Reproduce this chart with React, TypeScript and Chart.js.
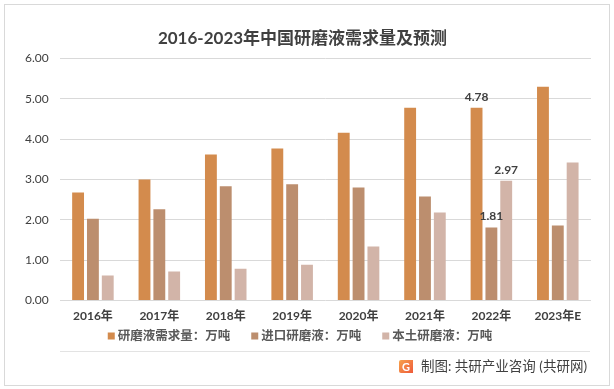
import React, { useEffect, useRef } from "react";
import { Chart, registerables } from "chart.js";

Chart.register(...registerables);

const categories = ["2016年", "2017年", "2018年", "2019年", "2020年", "2021年", "2022年", "2023年E"];
const seriesNames = ["研磨液需求量：万吨", "进口研磨液：万吨", "本土研磨液：万吨"];
const demand = [2.68, 3.0, 3.62, 3.77, 4.16, 4.78, 4.78, 5.3];
const imported = [2.03, 2.26, 2.83, 2.88, 2.8, 2.58, 1.81, 1.86];
const domestic = [0.62, 0.72, 0.79, 0.89, 1.34, 2.18, 2.97, 3.42];
const yTicks = [0, 1, 2, 3, 4, 5, 6];
const labeledIndex = 6;
const titleText = "2016-2023年中国研磨液需求量及预测";
const footerText = "制图: 共研产业咨询 (共研网)";

const FONT = 'Lato, "Noto Sans CJK SC", sans-serif';
const colors = ["#D38B4D", "#BC8E6E", "#D2B4A8"];

const decorPlugin = {
  id: "decor",
  beforeDraw(chart: any) {
    const ctx = chart.ctx;
    ctx.save();
    ctx.fillStyle = "#ffffff";
    ctx.fillRect(0, 0, chart.width, chart.height);
    ctx.strokeStyle = "#d9d9d9";
    ctx.lineWidth = 1;
    ctx.strokeRect(4.5, 4.5, 605, 381);
    ctx.restore();
  },
  afterDraw(chart: any) {
    const ctx = chart.ctx;
    ctx.save();
    // legend (drawn from the chart's datasets)
    ctx.font = "600 12.5px " + FONT;
    ctx.textBaseline = "middle";
    ctx.textAlign = "left";
    const box = 7;
    const boxGap = 3;
    const itemGap = 21;
    const items = chart.data.datasets.map((ds: any) => ({
      label: ds.label,
      color: ds.backgroundColor,
      w: box + boxGap + ctx.measureText(ds.label).width,
    }));
    const total = items.reduce((s: number, it: any) => s + it.w, 0) + itemGap * (items.length - 1);
    let x = 300 - total / 2;
    const ly = 336;
    items.forEach((it: any) => {
      ctx.fillStyle = it.color;
      ctx.fillRect(x, ly - 3.5, box, box);
      ctx.fillStyle = "#595959";
      ctx.fillText(it.label, x + box + boxGap, ly);
      x += it.w + itemGap;
    });
    // separator
    ctx.strokeStyle = "#e3e3e3";
    ctx.lineWidth = 1;
    ctx.beginPath();
    ctx.moveTo(60, 351.5);
    ctx.lineTo(590, 351.5);
    ctx.stroke();
    // logo
    const g = ctx.createLinearGradient(399, 360, 413, 373);
    g.addColorStop(0, "#F7A24B");
    g.addColorStop(1, "#EE5A3A");
    ctx.fillStyle = g;
    ctx.beginPath();
    ctx.moveTo(401, 360);
    ctx.lineTo(413, 360);
    ctx.lineTo(413, 373);
    ctx.lineTo(401, 373);
    ctx.quadraticCurveTo(399, 373, 399, 371);
    ctx.lineTo(399, 362);
    ctx.quadraticCurveTo(399, 360, 401, 360);
    ctx.fill();
    ctx.fillStyle = "#ffffff";
    ctx.font = "bold 11px " + FONT;
    ctx.textAlign = "center";
    ctx.textBaseline = "middle";
    ctx.fillText("G", 406, 367);
    // footer
    ctx.fillStyle = "#404040";
    ctx.font = "13.5px " + FONT;
    ctx.textAlign = "left";
    ctx.textBaseline = "middle";
    ctx.fillText(footerText, 421, 367);
    ctx.restore();
  },
  afterDatasetsDraw(chart: any) {
    const ctx = chart.ctx;
    ctx.save();
    ctx.fillStyle = "#404040";
    ctx.font = "bold 12px " + FONT;
    ctx.textAlign = "center";
    ctx.textBaseline = "bottom";
    chart.data.datasets.forEach((ds: any, i: number) => {
      const el = chart.getDatasetMeta(i).data[labeledIndex];
      if (!el) return;
      ctx.fillText(Number(ds.data[labeledIndex]).toFixed(2), el.x, el.y - 5);
    });
    ctx.restore();
  },
};

export default function App() {
  const ref = useRef<HTMLCanvasElement | null>(null);
  useEffect(() => {
    if (!ref.current) return;
    const chart = new Chart(ref.current, {
      type: "bar",
      data: {
        labels: categories,
        datasets: [demand, imported, domestic].map((d, i) => ({
          label: seriesNames[i],
          data: d,
          backgroundColor: colors[i],
          categoryPercentage: 0.67,
          barPercentage: 0.8,
        })),
      },
      options: {
        animation: false,
        responsive: false,
        layout: { padding: { left: 14, right: 23, top: 0, bottom: 58 } },
        plugins: {
          title: {
            display: true,
            text: titleText,
            color: "#404040",
            font: { family: FONT, size: 17, weight: "bold" },
            padding: { top: 28, bottom: 10 },
          },
          legend: { display: false },
          tooltip: { enabled: false },
        },
        scales: {
          x: {
            grid: { display: false, drawTicks: false },
            border: { display: false },
            ticks: {
              color: "#404040",
              font: { family: FONT, size: 12, weight: "bold" },
              padding: 8,
            },
          },
          y: {
            min: 0,
            max: 6,
            afterBuildTicks: (axis: any) => {
              axis.ticks = yTicks.map((v) => ({ value: v }));
            },
            grid: { color: "#d9d9d9", drawTicks: false },
            border: { display: false },
            ticks: {
              color: "#404040",
              font: { family: FONT, size: 12 },
              padding: 11,
              callback: (v: any) => Number(v).toFixed(2),
            },
          },
        },
      },
      plugins: [decorPlugin],
    } as any);
    return () => chart.destroy();
  }, []);
  return (
    <div style={{ position: "absolute", left: 0, top: 0, width: 614, height: 389, background: "#fff" }}>
      <canvas ref={ref} width={614} height={389} style={{ display: "block" }} />
    </div>
  );
}
